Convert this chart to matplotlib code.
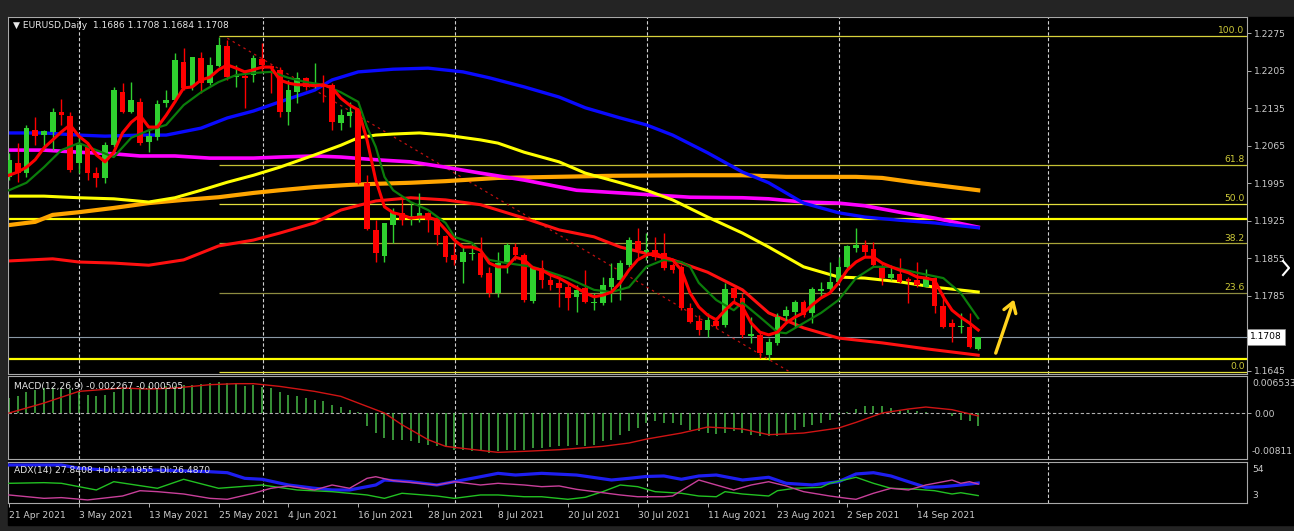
import numpy as np
import matplotlib
matplotlib.use("Agg")
import matplotlib.pyplot as plt
from matplotlib.patches import Rectangle
from matplotlib.lines import Line2D
from matplotlib.transforms import blended_transform_factory as blend

plt.rcParams['font.family'] = ['DejaVu Sans']

W, H = 1294, 531

# daily candles, 21 Apr 2021 .. 23 Sep 2021 (one per trading day)
opens = [1.2007, 1.2033, 1.2014, 1.2094, 1.2085, 1.2091, 1.2128, 1.2121, 1.2033, 1.2063,
         1.2014, 1.2005, 1.2066, 1.2165, 1.2128, 1.2147, 1.2072, 1.2081, 1.2145, 1.2151,
         1.2221, 1.2175, 1.2229, 1.2182, 1.2214, 1.2251, 1.2193, 1.2195, 1.2197, 1.2227,
         1.2214, 1.2207, 1.2128, 1.2165, 1.2192, 1.2175, 1.2179, 1.2179, 1.2108, 1.2121,
         1.2132, 1.1996, 1.1908, 1.1859, 1.1917, 1.1940, 1.1928, 1.1930, 1.1940, 1.1930,
         1.1897, 1.1861, 1.1848, 1.1863, 1.1865, 1.1828, 1.1790, 1.1846, 1.1876, 1.1861,
         1.1775, 1.1837, 1.1814, 1.1809, 1.1801, 1.1783, 1.1800, 1.1772, 1.1772, 1.1801,
         1.1814, 1.1842, 1.1887, 1.1867, 1.1870, 1.1865, 1.1842, 1.1839, 1.1762, 1.1738,
         1.1721, 1.1738, 1.1730, 1.1800, 1.1781, 1.1710, 1.1712, 1.1674, 1.1697, 1.1747,
         1.1755, 1.1773, 1.1753, 1.1794, 1.1798, 1.1811, 1.1839, 1.1874, 1.1880, 1.1872,
         1.1841, 1.1818, 1.1826, 1.1816, 1.1814, 1.1801, 1.1818, 1.1766, 1.1734, 1.1727,
         1.1727, 1.1686]
highs = [1.2052, 1.2070, 1.2104, 1.2119, 1.2094, 1.2136, 1.2152, 1.2128, 1.2081, 1.2072,
         1.2025, 1.2072, 1.2175, 1.2182, 1.2184, 1.2154, 1.2094, 1.2151, 1.2169, 1.2238,
         1.2248, 1.2231, 1.2240, 1.2231, 1.2268, 1.2263, 1.2216, 1.2207, 1.2234, 1.2257,
         1.2216, 1.2212, 1.2188, 1.2203, 1.2193, 1.2220, 1.2197, 1.2182, 1.2134, 1.2147,
         1.2136, 1.2010, 1.1926, 1.1921, 1.1949, 1.1971, 1.1958, 1.1977, 1.1941, 1.1932,
         1.1898, 1.1885, 1.1876, 1.1884, 1.1895, 1.1839, 1.1867, 1.1884, 1.1884, 1.1865,
         1.1841, 1.1852, 1.1824, 1.1820, 1.1809, 1.1805, 1.1833, 1.1790, 1.1820, 1.1846,
         1.1852, 1.1895, 1.1912, 1.1902, 1.1895, 1.1902, 1.1846, 1.1842, 1.1772, 1.1749,
         1.1753, 1.1745, 1.1809, 1.1801, 1.1790, 1.1745, 1.1717, 1.1706, 1.1753, 1.1766,
         1.1777, 1.1777, 1.1801, 1.1811, 1.1848, 1.1857, 1.1880, 1.1912, 1.1889, 1.1885,
         1.1846, 1.1842, 1.1856, 1.1820, 1.1848, 1.1835, 1.1820, 1.1790, 1.1742, 1.1753,
         1.1753, 1.1708]
lows = [1.2001, 1.1997, 1.2007, 1.2066, 1.2057, 1.2057, 1.2104, 1.2016, 1.2014, 1.2001,
        1.1988, 1.1996, 1.2063, 1.2126, 1.2126, 1.2066, 1.2053, 1.2076, 1.2137, 1.2147,
        1.2169, 1.2169, 1.2164, 1.2179, 1.2212, 1.2188, 1.2175, 1.2136, 1.2184, 1.2203,
        1.2164, 1.2119, 1.2104, 1.2145, 1.2169, 1.2173, 1.2147, 1.2094, 1.2094, 1.2100,
        1.1994, 1.1908, 1.1848, 1.1848, 1.1884, 1.1917, 1.1917, 1.1923, 1.1904, 1.1880,
        1.1848, 1.1842, 1.1809, 1.1852, 1.1820, 1.1783, 1.1783, 1.1828, 1.1852, 1.1773,
        1.1772, 1.1800, 1.1796, 1.1764, 1.1758, 1.1755, 1.1772, 1.1758, 1.1768, 1.1773,
        1.1777, 1.1839, 1.1852, 1.1852, 1.1852, 1.1833, 1.1828, 1.1758, 1.1734, 1.1712,
        1.1708, 1.1725, 1.1727, 1.1772, 1.1706, 1.1697, 1.1669, 1.1665, 1.1693, 1.1734,
        1.1727, 1.1745, 1.1734, 1.1783, 1.1792, 1.1809, 1.1837, 1.1867, 1.1857, 1.1839,
        1.1805, 1.1814, 1.1809, 1.1772, 1.1801, 1.1801, 1.1753, 1.1725, 1.1699, 1.1715,
        1.1688, 1.1684]
closes = [1.2039, 1.2014, 1.2098, 1.2083, 1.2093, 1.2128, 1.2122, 1.2020, 1.2066, 1.2014,
          1.2005, 1.2066, 1.2169, 1.2128, 1.2151, 1.2070, 1.2083, 1.2143, 1.2151, 1.2225,
          1.2173, 1.2231, 1.2182, 1.2216, 1.2253, 1.2193, 1.2197, 1.2192, 1.2229, 1.2216,
          1.2210, 1.2128, 1.2169, 1.2192, 1.2175, 1.2182, 1.2175, 1.2109, 1.2122, 1.2128,
          1.1996, 1.1910, 1.1865, 1.1921, 1.1941, 1.1926, 1.1934, 1.1940, 1.1926, 1.1898,
          1.1857, 1.1852, 1.1867, 1.1865, 1.1824, 1.1790, 1.1846, 1.1880, 1.1861, 1.1777,
          1.1839, 1.1814, 1.1805, 1.1800, 1.1781, 1.1796, 1.1773, 1.1773, 1.1805, 1.1818,
          1.1846, 1.1889, 1.1870, 1.1870, 1.1857, 1.1837, 1.1833, 1.1762, 1.1736, 1.1721,
          1.1740, 1.1729, 1.1798, 1.1781, 1.1712, 1.1714, 1.1678, 1.1699, 1.1745, 1.1758,
          1.1773, 1.1749, 1.1798, 1.1798, 1.1811, 1.1839, 1.1878, 1.1880, 1.1867, 1.1842,
          1.1818, 1.1826, 1.1811, 1.1813, 1.1805, 1.1820, 1.1766, 1.1727, 1.1727, 1.1729,
          1.1689, 1.1708]

# fast red MA (every bar)
ma_fast = [1.2010, 1.2016, 1.2025, 1.2039, 1.2061, 1.2076, 1.2091, 1.2104, 1.2083, 1.2070,
           1.2048, 1.2035, 1.2053, 1.2089, 1.2109, 1.2122, 1.2100, 1.2100, 1.2122, 1.2147,
           1.2173, 1.2175, 1.2188, 1.2193, 1.2207, 1.2216, 1.2210, 1.2203, 1.2207, 1.2212,
           1.2212, 1.2188, 1.2182, 1.2179, 1.2179, 1.2177, 1.2179, 1.2173, 1.2154, 1.2141,
           1.2132, 1.2076, 1.2001, 1.1951, 1.1940, 1.1936, 1.1930, 1.1932, 1.1932, 1.1926,
           1.1908, 1.1889, 1.1876, 1.1876, 1.1870, 1.1846, 1.1839, 1.1839, 1.1857, 1.1852,
           1.1837, 1.1833, 1.1824, 1.1818, 1.1809, 1.1800, 1.1790, 1.1783, 1.1786, 1.1792,
           1.1809, 1.1833, 1.1852, 1.1861, 1.1865, 1.1857, 1.1852, 1.1833, 1.1790, 1.1764,
           1.1749, 1.1740, 1.1758, 1.1773, 1.1764, 1.1734, 1.1717, 1.1712, 1.1717, 1.1734,
           1.1745, 1.1753, 1.1768, 1.1781, 1.1790, 1.1809, 1.1833, 1.1848, 1.1857, 1.1857,
           1.1846, 1.1839, 1.1833, 1.1828, 1.1820, 1.1818, 1.1814, 1.1783, 1.1758, 1.1745,
           1.1734, 1.1721]

# dark green MA
green_x = [0, 2, 4, 6, 8, 10, 12, 14, 16, 18, 20, 22, 24, 26, 28, 30, 32, 34, 36, 38,
           40, 41, 42, 43, 44, 46, 48, 50, 51, 53, 55, 57, 60, 64, 67, 69, 71, 73, 75, 77,
           78, 79, 81, 83, 84, 86, 88, 89, 91, 93, 95, 97, 99, 101, 104, 107, 109, 111]
green_v = [1.1982, 1.1996, 1.2025, 1.2057, 1.2070, 1.2057, 1.2044, 1.2080, 1.2094, 1.2104,
           1.2141, 1.2165, 1.2184, 1.2197, 1.2201, 1.2203, 1.2192, 1.2184, 1.2179, 1.2165,
           1.2147, 1.2100, 1.2063, 1.2007, 1.1982, 1.1960, 1.1945, 1.1921, 1.1895, 1.1884,
           1.1852, 1.1846, 1.1839, 1.1818, 1.1796, 1.1792, 1.1801, 1.1839, 1.1852, 1.1848,
           1.1839, 1.1809, 1.1777, 1.1758, 1.1772, 1.1745, 1.1717, 1.1715, 1.1734, 1.1753,
           1.1777, 1.1818, 1.1839, 1.1839, 1.1828, 1.1818, 1.1790, 1.1743]

blue_x = [0, 4, 8, 11, 15, 18, 22, 25, 28, 31, 35, 37, 40, 44, 48, 52, 55, 59, 63, 66,
          70, 73, 76, 80, 84, 87, 91, 95, 98, 102, 106, 111]
blue_v = [1.2089, 1.2089, 1.2085, 1.2083, 1.2085, 1.2085, 1.2098, 1.2117, 1.2130, 1.2147,
          1.2169, 1.2188, 1.2203, 1.2208, 1.2210, 1.2203, 1.2192, 1.2175, 1.2156, 1.2136,
          1.2117, 1.2104, 1.2085, 1.2052, 1.2016, 1.1996, 1.1958, 1.1940, 1.1932, 1.1926,
          1.1921, 1.1912]

magenta_x = [0, 4, 8, 12, 15, 19, 23, 28, 31, 35, 38, 42, 46, 50, 54, 59, 65, 70, 74, 78,
             84, 87, 91, 95, 98, 102, 106, 111]
magenta_v = [1.2057, 1.2057, 1.2053, 1.2050, 1.2046, 1.2046, 1.2042, 1.2042, 1.2044, 1.2046,
             1.2044, 1.2039, 1.2035, 1.2025, 1.2014, 1.2001, 1.1982, 1.1977, 1.1973, 1.1969,
             1.1968, 1.1966, 1.1960, 1.1958, 1.1953, 1.1941, 1.1930, 1.1913]

yellow_x = [0, 4, 8, 12, 16, 19, 22, 25, 28, 31, 35, 38, 40, 42, 44, 47, 50, 54, 56, 59,
            63, 66, 70, 73, 76, 80, 84, 87, 91, 95, 98, 102, 106, 111]
yellow_v = [1.1971, 1.1971, 1.1968, 1.1966, 1.1960, 1.1968, 1.1982, 1.1997, 1.2010, 1.2025,
            1.2048, 1.2066, 1.2080, 1.2085, 1.2087, 1.2089, 1.2085, 1.2076, 1.2070, 1.2053,
            1.2035, 1.2014, 1.1996, 1.1982, 1.1964, 1.1932, 1.1902, 1.1876, 1.1839, 1.1820,
            1.1818, 1.1811, 1.1801, 1.1792]

orange_x = [0, 3, 5, 8, 12, 16, 20, 24, 28, 31, 35, 39, 42, 46, 50, 56, 69, 78, 84, 89,
            97, 100, 104, 111]
orange_v = [1.1917, 1.1923, 1.1936, 1.1941, 1.1949, 1.1958, 1.1964, 1.1969, 1.1977, 1.1982,
            1.1988, 1.1992, 1.1994, 1.1996, 1.1999, 1.2005, 1.2009, 1.2010, 1.2010, 1.2007,
            1.2007, 1.2005, 1.1996, 1.1982]

slow_red_x = [0, 5, 8, 12, 16, 20, 24, 28, 31, 35, 38, 42, 46, 50, 54, 59, 63, 67, 70, 76,
              80, 84, 87, 91, 95, 100, 105, 111]
slow_red_v = [1.1850, 1.1854, 1.1848, 1.1846, 1.1842, 1.1852, 1.1878, 1.1889, 1.1902, 1.1921,
              1.1945, 1.1962, 1.1968, 1.1964, 1.1955, 1.1930, 1.1908, 1.1895, 1.1876, 1.1852,
              1.1829, 1.1796, 1.1753, 1.1725, 1.1706, 1.1697, 1.1686, 1.1674]

fib_names = ['100.0', '61.8', '50.0', '38.2', '23.6', '0.0']
fib_prices = [1.2270, 1.2030, 1.1957, 1.1883, 1.1791, 1.1643]
fib_colors = ['#d8d23c', '#c4c034', '#e2de3c', '#a8a438', '#8e8c40', '#e2de3c']
support_levels = [1.1928, 1.1666]
last_price = 1.1708
trend_x = [25, 89.4]
trend_y = [1.2266, 1.1643]

# MACD(12,26,9)
macd_hist = [0.00265, 0.00294, 0.00365, 0.00412, 0.00441, 0.00441, 0.00423, 0.00423, 0.00365, 0.00323,
             0.00306, 0.00323, 0.00365, 0.00423, 0.00441, 0.00459, 0.00470, 0.00441, 0.00470, 0.00482,
             0.00500, 0.00500, 0.00518, 0.00529, 0.00541, 0.00529, 0.00518, 0.00482, 0.00488, 0.00459,
             0.00441, 0.00365, 0.00323, 0.00294, 0.00265, 0.00235, 0.00206, 0.00147, 0.00106, 0.00047,
             0.00012, -0.00235, -0.00353, -0.00441, -0.00482, -0.00482, -0.00500, -0.00529, -0.00559, -0.00576,
             -0.00600, -0.00647, -0.00647, -0.00676, -0.00676, -0.00706, -0.00676, -0.00647, -0.00647, -0.00647,
             -0.00617, -0.00617, -0.00600, -0.00576, -0.00588, -0.00559, -0.00576, -0.00559, -0.00500, -0.00482,
             -0.00382, -0.00323, -0.00265, -0.00176, -0.00147, -0.00176, -0.00176, -0.00206, -0.00294, -0.00323,
             -0.00353, -0.00365, -0.00353, -0.00323, -0.00353, -0.00382, -0.00400, -0.00412, -0.00400, -0.00353,
             -0.00294, -0.00247, -0.00206, -0.00176, -0.00118, -0.00029, 0.00012, 0.00071, 0.00118, 0.00118,
             0.00118, 0.00088, 0.00029, 0.00047, 0.00029, 0.00012, 0.0, 0.0, -0.00059, -0.00118,
             -0.00147, -0.00227]
signal_x = [0, 4, 8, 13, 16, 19, 23, 26, 28, 31, 35, 38, 40, 43, 45, 48, 50, 54, 56, 59,
            63, 68, 71, 73, 77, 80, 84, 87, 91, 95, 97, 100, 103, 105, 108, 111]
signal_v = [0.0, 0.00176, 0.00382, 0.00441, 0.00423, 0.00441, 0.00500, 0.00518, 0.00518, 0.00470,
            0.00382, 0.00294, 0.00176, 0.0, -0.00206, -0.00470, -0.00588, -0.00659, -0.00694, -0.00676,
            -0.00647, -0.00588, -0.00529, -0.00460, -0.00353, -0.00247, -0.00282, -0.00382, -0.00353, -0.00265,
            -0.00165, 0.0, 0.00071, 0.00106, 0.00059, -0.00051]

# ADX(14)
adx_x = [0, 6, 8, 11, 17, 23, 25, 27, 29, 32, 35, 37, 39, 42, 43, 46, 49, 51, 54, 56,
         58, 61, 65, 69, 71, 73, 75, 77, 79, 81, 84, 87, 89, 92, 95, 97, 99, 101, 103, 105,
         107, 109, 111]
adx_v = [50.3, 50.3, 46.2, 44.0, 44.0, 41.9, 40.7, 33.7, 32.5, 25.4, 21.3, 19.2, 19.2, 25.4, 31.6,
         29.5, 25.4, 29.5, 35.7, 39.9, 37.8, 39.9, 37.8, 31.6, 33.7, 36.0, 36.6, 32.5, 36.6, 37.8,
         31.6, 35.0, 27.5, 25.4, 29.5, 39.1, 40.7, 36.6, 29.5, 22.5, 23.3, 25.4, 27.8]
pdi_x = [0, 4, 6, 10, 12, 17, 20, 24, 29, 33, 37, 41, 43, 45, 49, 51, 54, 56, 59, 61,
         64, 66, 68, 70, 72, 74, 77, 79, 81, 82, 84, 87, 88, 90, 93, 94, 97, 99, 101, 104,
         106, 108, 109, 111]
pdi_v = [27.5, 28.3, 27.5, 19.2, 29.5, 21.3, 32.5, 21.3, 25.4, 19.2, 17.1, 13.0, 8.8, 15.1, 11.7,
         8.8, 13.0, 13.0, 10.8, 10.8, 7.6, 10.1, 17.1, 25.4, 23.3, 17.1, 15.1, 11.7, 10.8, 17.1,
         14.2, 11.7, 18.3, 21.3, 22.5, 27.5, 35.0, 27.5, 21.3, 20.0, 18.3, 14.2, 15.8, 12.2]
mdi_x = [0, 4, 6, 9, 13, 15, 17, 20, 23, 25, 28, 30, 32, 35, 37, 39, 41, 42, 44, 47,
         49, 51, 54, 56, 59, 61, 63, 65, 68, 70, 72, 75, 76, 79, 81, 83, 85, 87, 89, 91,
         94, 96, 97, 99, 101, 103, 105, 107, 108, 109, 110, 111]
mdi_v = [13.0, 8.8, 9.7, 6.8, 11.7, 18.3, 17.1, 14.2, 8.8, 7.6, 15.1, 21.3, 24.2, 19.2, 25.4,
         21.3, 33.7, 35.7, 30.8, 27.5, 25.4, 29.5, 25.4, 27.5, 25.4, 23.3, 24.2, 20.0, 15.8, 13.0,
         10.8, 10.8, 11.7, 31.6, 25.4, 19.2, 25.4, 29.5, 24.2, 17.1, 11.7, 8.8, 7.6, 15.1, 21.3,
         19.2, 25.4, 29.5, 31.6, 27.5, 29.5, 26.5]

date_pos = [0, 8, 16, 24, 32, 40, 48, 56, 64, 72, 80, 88, 96, 104]
date_labels = ['21 Apr 2021', '3 May 2021', '13 May 2021', '25 May 2021', '4 Jun 2021',
               '16 Jun 2021', '28 Jun 2021', '8 Jul 2021', '20 Jul 2021', '30 Jul 2021',
               '11 Aug 2021', '23 Aug 2021', '2 Sep 2021', '14 Sep 2021']
grid_pos = [8, 29.1, 51.1, 73.1, 95.05, 119]
price_ticks = [1.2275, 1.2205, 1.2135, 1.2065, 1.1995, 1.1925, 1.1855, 1.1785, 1.1645]

TXT = '#cccccc'
FS = 6.6
GREEN = '#2fd02f'
RED = '#ff0000'


def box(l, t, r, b):
    return [l / W, 1 - b / H, (r - l) / W, (b - t) / H]


fig = plt.figure(figsize=(W / 100, H / 100), dpi=100, facecolor='#242424')
fig.patches.append(Rectangle((8 / W, 1 - 525 / H), (W - 8) / W, 508 / H,
                             transform=fig.transFigure, color='black', zorder=-10))

ax = fig.add_axes(box(8, 17, 1247, 374))
axm = fig.add_axes(box(8, 376, 1247, 459), sharex=ax)
axa = fig.add_axes(box(8, 462, 1247, 503), sharex=ax)

for a in (ax, axm, axa):
    a.set_facecolor('black')
    for s in a.spines.values():
        s.set_color('#a8a8a8')
        s.set_linewidth(0.8)
    a.tick_params(axis='x', bottom=False, labelbottom=False)
    a.tick_params(axis='y', left=False, labelleft=False, right=True, labelright=True,
                  colors=TXT, labelsize=FS, length=3, width=0.6, pad=2)
    for g in grid_pos:
        a.axvline(g, color='#d0d0d0', lw=0.8, ls=(0, (3, 2)), zorder=1)

ax.set_xlim(-0.115, 141.78)

# ---- price panel ----
ax.set_ylim(1.16389, 1.23055)
ax.set_yticks(price_ticks)
ax.set_yticklabels([f'{p:.4f}' for p in price_ticks])

for name, p, col in zip(fib_names, fib_prices, fib_colors):
    ax.hlines(p, 24, 141.78, colors=col, lw=0.9, zorder=1.5)
    ax.text(0.998, p + 0.0001, name, transform=blend(ax.transAxes, ax.transData),
            ha='right', va='bottom', color='#cfcb3a', fontsize=FS, zorder=6)
for p in support_levels:
    ax.axhline(p, color='#ffff00', lw=1.6, zorder=1.6)
ax.axhline(last_price, color='#8a98a6', lw=0.8, zorder=1.6)
ax.plot(trend_x, trend_y, color='#c01010', lw=0.9, ls=(0, (2, 3)), zorder=1.7)

ax.plot(orange_x, orange_v, color='#ffa500', lw=3.0, zorder=2)
ax.plot(magenta_x, magenta_v, color='#ff00ff', lw=2.6, zorder=2)
ax.plot(yellow_x, yellow_v, color='#ffff00', lw=2.2, zorder=2)
ax.plot(blue_x, blue_v, color='#0a0aff', lw=2.4, zorder=2)
ax.plot(slow_red_x, slow_red_v, color='#ff1010', lw=2.2, zorder=2)

idx = np.arange(len(opens))
o, h, l, c = (np.array(v) for v in (opens, highs, lows, closes))
cols = np.where(c >= o, GREEN, RED)
ax.vlines(idx, l, h, colors=cols, lw=1.0, zorder=3)
ax.bar(idx, np.maximum(np.abs(c - o), 0.00008), width=0.65, bottom=np.minimum(o, c),
       color=cols, linewidth=0, zorder=3)

ax.plot(green_x, green_v, color='#0b7d0b', lw=1.6, zorder=4)
ax.plot(np.arange(len(ma_fast)), ma_fast, color='#ff0000', lw=2.2, zorder=4)

ax.annotate('', xy=(115.2, 1.1783), xytext=(112.9, 1.1673),
            arrowprops=dict(arrowstyle='->,head_length=0.7,head_width=0.45',
                            color='#ffd21e', lw=2.4), zorder=6)

ax.text(1.0025, last_price, f'{last_price:.4f}', transform=blend(ax.transAxes, ax.transData),
        ha='left', va='center', color='black', fontsize=FS, zorder=10, clip_on=False,
        bbox=dict(boxstyle='square,pad=0.38', fc='white', ec='#909090', lw=0.5))

fig.text(13 / W, 1 - 26 / H, '\u25bc EURUSD,Daily  1.1686 1.1708 1.1684 1.1708',
         color='#e6e6e6', fontsize=FS, va='center', ha='left')

# ---- MACD panel ----
axm.set_ylim(-0.00811, 0.006533)
axm.vlines(np.arange(len(macd_hist)), 0, macd_hist, colors='#46b846', lw=1.1, zorder=2)
axm.plot(signal_x, signal_v, color='#d01414', lw=1.0, zorder=3)
axm.axhline(0, color='#b0b0b0', lw=0.8, ls=(0, (3, 2)), zorder=1.5)
axm.set_yticks([0])
axm.set_yticklabels(['0.00'])
fig.text(1252 / W, 1 - 383 / H, '0.006533', ha='left', va='center', color=TXT, fontsize=FS)
fig.text(1252 / W, 1 - 452 / H, '-0.00811', ha='left', va='center', color=TXT, fontsize=FS)
axm.text(0.005, 0.93, 'MACD(12,26,9) -0.002267 -0.000505', transform=axm.transAxes,
         ha='left', va='top', color='#e6e6e6', fontsize=FS)

# ---- ADX panel ----
axa.set_ylim(3, 54)
axa.plot(adx_x, adx_v, color='#1e1ef0', lw=2.3, zorder=3)
axa.plot(pdi_x, pdi_v, color='#22c022', lw=1.0, zorder=3)
axa.plot(mdi_x, mdi_v, color='#c8409a', lw=1.0, zorder=3)
axa.set_yticks([])
fig.text(1252 / W, 1 - 470 / H, '54', ha='left', va='center', color=TXT, fontsize=FS)
fig.text(1252 / W, 1 - 495 / H, '3', ha='left', va='center', color=TXT, fontsize=FS)
axa.text(0.005, 0.9, 'ADX(14) 27.8408 +DI:12.1955 -DI:26.4870', transform=axa.transAxes,
         ha='left', va='top', color='#e6e6e6', fontsize=FS)

axa.tick_params(axis='x', bottom=True, labelbottom=True, colors=TXT, labelsize=FS,
                length=3, width=0.6, pad=3)
axa.set_xticks(date_pos)
axa.set_xticklabels(date_labels, ha='left')

# chevron at the right edge
fig.add_artist(Line2D([1283 / W, 1289 / W, 1283 / W], [1 - 261 / H, 1 - 268 / H, 1 - 275 / H],
                      color='white', lw=1.5))

fig.savefig('out.png', dpi=100, facecolor=fig.get_facecolor())
